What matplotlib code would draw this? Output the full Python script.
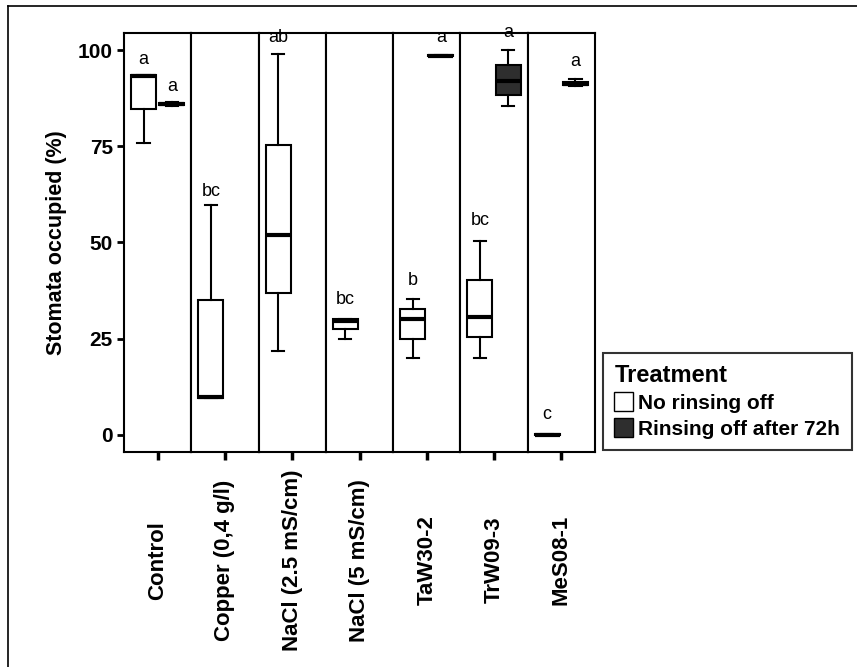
import matplotlib.pyplot as plt
from matplotlib.patches import Patch
from matplotlib.lines import Line2D

plt.rcParams['font.family'] = ['Liberation Sans', 'DejaVu Sans']

groups = ['Control', 'Copper (0,4 g/l)', 'NaCl (2.5 mS/cm)', 'NaCl (5 mS/cm)',
          'TaW30-2', 'TrW09-3', 'MeS08-1']

# box stats per group: (whisker low, q1, median, q3, whisker high); None = no data
no_rinse = [
    (75.8, 84.7, 93.2, 93.5, 93.5),
    (9.5, 9.5, 9.8, 35.0, 59.7),
    (21.7, 36.8, 52.0, 75.3, 99.0),
    (24.8, 27.4, 29.7, 30.0, 30.0),
    (20.0, 25.0, 30.0, 32.7, 35.3),
    (20.0, 25.3, 30.5, 40.3, 50.5),
    (0.0, 0.0, 0.0, 0.3, 0.3),
]
rinse = [
    (85.6, 85.8, 86.0, 86.3, 86.5),
    None,
    None,
    None,
    (98.5, 98.5, 98.6, 98.8, 98.8),
    (85.5, 88.4, 92.0, 96.3, 100.2),
    (90.8, 90.9, 91.2, 91.7, 92.6),
]
letters_no = ['a', 'bc', 'ab', 'bc', 'b', 'bc', 'c']
letters_no_y = [95.5, 61.0, 101.0, 33.0, 38.0, 53.5, 3.0]
letters_r = ['a', None, None, None, 'a', 'a', 'a']
letters_r_y = [88.5, None, None, None, 101.0, 102.5, 95.0]

fig = plt.figure(figsize=(8.57, 6.67), dpi=100)
W, H = 857, 667
left, right, top, bottom = 124, 595, 33, 452
pw = (right - left) / len(groups)
dark = '#2e2e2e'

def box(ax, pos, st, fc):
    lo, q1, med, q3, hi = st
    ax.bxp([{'whislo': lo, 'q1': q1, 'med': med, 'q3': q3, 'whishi': hi, 'fliers': []}],
           positions=[pos], widths=0.37, patch_artist=True, showfliers=False,
           boxprops=dict(facecolor=fc, edgecolor='black', linewidth=1.5),
           medianprops=dict(color='black', linewidth=3),
           whiskerprops=dict(color='black', linewidth=1.5),
           capprops=dict(color='black', linewidth=1.5), capwidths=0.18)

for i, g in enumerate(groups):
    ax = fig.add_axes([(left + i * pw) / W, 1 - bottom / H, pw / W, (bottom - top) / H])
    if no_rinse[i] is not None:
        box(ax, -0.21, no_rinse[i], 'white')
        ax.text(-0.21, letters_no_y[i], letters_no[i], ha='center', va='bottom', fontsize=13)
    if rinse[i] is not None:
        box(ax, 0.21, rinse[i], dark)
        ax.text(0.21, letters_r_y[i], letters_r[i], ha='center', va='bottom', fontsize=13)
    ax.set_xlim(-0.5, 0.5)
    ax.set_ylim(-4.5, 104.5)
    ax.set_xticks([0])
    ax.set_xticklabels([''])
    ax.tick_params(axis='x', length=6, width=2.5)
    # group label, centred along its length below the tick
    ax.text(0, -0.258, g, transform=ax.get_xaxis_transform(), rotation=90,
            ha='center', va='center', fontsize=16, fontweight='bold')
    for s in ax.spines.values():
        s.set_linewidth(1.5)
    if i == 0:
        ax.set_yticks([0, 25, 50, 75, 100])
        ax.set_yticklabels(['0', '25', '50', '75', '100'], fontsize=15, fontweight='bold')
        ax.tick_params(axis='y', length=5, width=2, pad=3)
        ax.set_ylabel('Stomata occupied (%)', fontsize=15.5, fontweight='bold', labelpad=8)
    else:
        ax.set_yticks([])

handles = [Patch(facecolor='white', edgecolor='black', label='No rinsing off'),
           Patch(facecolor=dark, edgecolor='black', label='Rinsing off after 72h')]
leg = fig.legend(handles=handles, title='Treatment', loc='lower left',
                 bbox_to_anchor=(603 / W, 1 - 450 / H), borderaxespad=0,
                 frameon=True, fancybox=False,
                 prop={'weight': 'bold', 'size': 15}, handlelength=0.9, handleheight=1.0,
                 handletextpad=0.25, borderpad=0.55, labelspacing=0.25, alignment='left')
leg.get_title().set_fontweight('bold')
leg.get_title().set_fontsize(17)
leg.get_frame().set_edgecolor('black')
leg.get_frame().set_linewidth(1.5)

# outer frame (top and left edges visible)
fig.add_artist(Line2D([8 / W, 8 / W], [0, 1 - 6 / H], color='black', lw=1.2))
fig.add_artist(Line2D([8 / W, 1], [1 - 6 / H, 1 - 6 / H], color='black', lw=1.2))

fig.savefig('out.png', dpi=100)
